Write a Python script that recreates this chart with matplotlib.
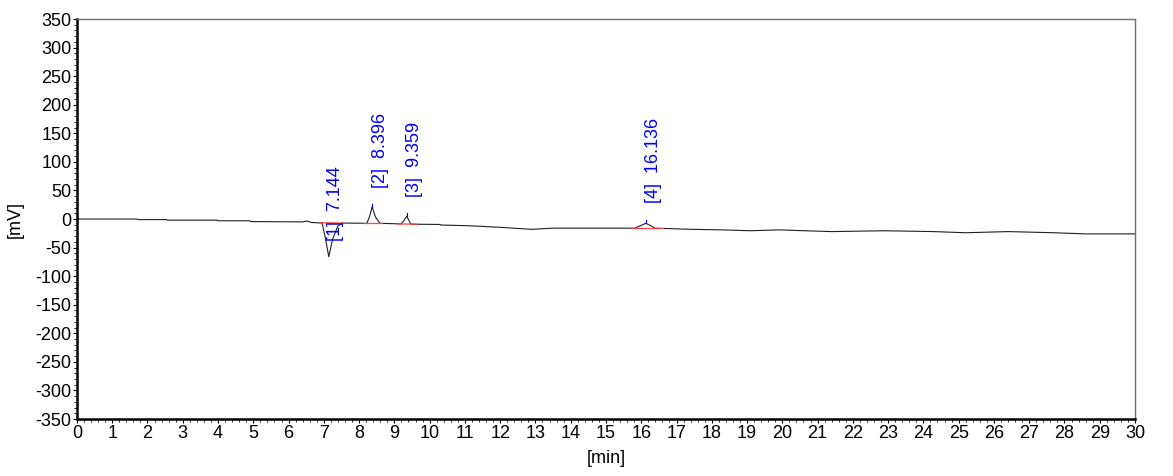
import matplotlib
matplotlib.use("Agg")
import matplotlib.pyplot as plt
from matplotlib.ticker import MultipleLocator

plt.rcParams['font.family'] = ['Liberation Sans', 'DejaVu Sans']
plt.rcParams['axes.unicode_minus'] = False

# chromatogram trace (min, mV)
time = [0, 1.7, 1.72, 2.55, 2.57, 3.97, 3.99, 4.9, 4.92, 6.4, 6.52, 6.65, 6.95,
        7.05, 7.14, 7.25, 7.4, 7.52, 8.22, 8.3, 8.37, 8.46, 8.59, 9.19, 9.28,
        9.35, 9.41, 9.47, 10.3, 10.32, 11.1, 12.0, 12.9, 13.5, 15.82, 16.0,
        16.13, 16.25, 16.39, 17.4, 18.3, 19.1, 19.9, 21.4, 22.9, 24.3, 25.2,
        26.4, 27.7, 28.6, 30.0]
signal = [0, 0, -1, -1, -2, -2, -3, -3, -4.5, -5, -3.5, -6, -7,
          -35, -66, -35, -12, -7, -7.5, 5, 21.5, 4, -7.5, -8.5, -2,
          5, -2, -9, -9.5, -10.5, -11.7, -14.5, -18, -16, -16, -11,
          -7.5, -11, -16, -18, -19, -20.5, -19, -22, -20.5, -22, -24,
          -22, -24, -26, -26]

peak_rt = [7.144, 8.396, 9.359, 16.136]
peak_names = ["[1]", "[2]", "[3]", "[4]"]
label_base = [-38, 55, 38, 28]
base_start = [6.89, 8.11, 9.06, 15.74]
base_end = [7.54, 8.64, 9.63, 16.62]
base_start_val = [-6.5, -7.5, -8.5, -16]
base_end_val = [-7, -7.5, -9, -16]
apex_mark = [(8.37, 21.5), (9.35, 5), (16.13, -7.5)]

fig, ax = plt.subplots(figsize=(11.73, 4.76), dpi=100)
fig.subplots_adjust(left=0.0656, right=0.9676, top=0.960, bottom=0.1197)

ax.plot(time, signal, color="#202020", lw=0.8)

for i in range(len(peak_rt)):
    ax.plot([base_start[i], base_end[i]], [base_start_val[i], base_end_val[i]],
            color="#ff4040", lw=0.9)
    ax.text(peak_rt[i] - 0.04, label_base[i], f"{peak_names[i]}  {peak_rt[i]:.3f}",
            rotation=90, color="blue", fontsize=13, ha="left", va="bottom")

for t, v in apex_mark:
    ax.plot([t, t], [v, v + 5], color="blue", lw=0.8)

ax.set_xlim(0, 30)
ax.set_ylim(-350, 350)
ax.xaxis.set_major_locator(MultipleLocator(1))
ax.xaxis.set_minor_locator(MultipleLocator(0.2))
ax.yaxis.set_major_locator(MultipleLocator(50))
ax.yaxis.set_minor_locator(MultipleLocator(10))
ax.tick_params(which="both", direction="out", labelsize=13, pad=1)
ax.tick_params(which="major", length=3)
ax.tick_params(which="minor", length=2)

for s in ["top", "right"]:
    ax.spines[s].set_color("#707070")
    ax.spines[s].set_linewidth(1.0)
for s in ["left", "bottom"]:
    ax.spines[s].set_color("black")
    ax.spines[s].set_linewidth(1.8)

ax.set_xlabel("[min]", fontsize=13, labelpad=6)
ax.set_ylabel("[mV]", fontsize=13, labelpad=8)

fig.savefig("out.png", dpi=100)
